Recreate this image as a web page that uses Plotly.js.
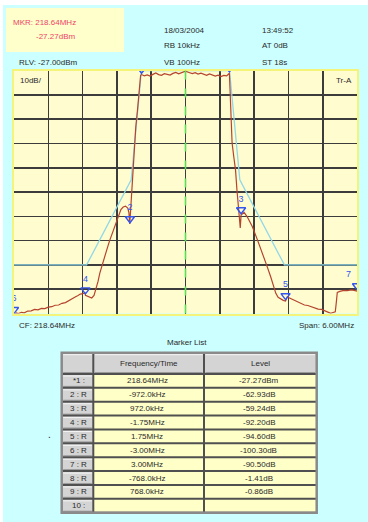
<!DOCTYPE html>
<html>
<head>
<meta charset="utf-8">
<script src="https://cdn.plot.ly/plotly-3.0.1.min.js"></script>
<style>html,body{margin:0;padding:0;background:#fff;}#chart{width:368px;height:522px;}</style>
</head>
<body>
<div id="chart"></div>
<script>
// ---- data ----
const centerFreqMHz = 218.64;
const spanMHz = 6.0;
const refLevelDbm = -27.0;
const dbPerDiv = 10;

const traceOffsetMHz = [-3.00,-2.96,-2.92,-2.87,-2.82,-2.76,-2.70,-2.64,-2.58,-2.52,-2.46,-2.40,-2.34,-2.28,-2.22,-2.16,-2.10,-2.04,-1.98,-1.93,-1.88,-1.84,-1.80,-1.76,-1.75,-1.71,-1.67,-1.64,-1.60,-1.57,-1.53,-1.50,-1.46,-1.43,-1.38,-1.33,-1.28,-1.23,-1.18,-1.13,-1.09,-1.05,-1.01,-0.99,-0.975,-0.962,-0.95,-0.937,-0.925,-0.915,-0.905,-0.89,-0.87,-0.84,-0.815,-0.80,-0.785,-0.768,
 -0.72,-0.67,-0.62,-0.57,-0.52,-0.47,-0.42,-0.37,-0.32,-0.27,-0.22,-0.17,-0.12,-0.06,0.00,0.06,0.12,0.17,0.22,0.27,0.32,0.37,0.42,0.47,0.52,0.57,0.62,0.67,0.72,0.768,
 0.78,0.795,0.815,0.845,0.875,0.90,0.915,0.94,0.958,0.972,0.995,1.025,1.08,1.17,1.26,1.37,1.43,1.49,1.54,1.58,1.62,1.67,1.71,1.75,1.78,1.82,1.86,1.91,1.96,2.02,2.08,2.14,2.20,2.26,2.32,2.38,2.43,2.49,2.54,2.58,2.62,2.64,2.655,2.70,2.77,2.83,2.90,2.95,3.00];
const traceLevelDbm = [-127.9,-126.8,-127.0,-126.5,-126.7,-126.0,-125.9,-125.3,-125.5,-124.9,-125.0,-124.4,-124.2,-123.6,-123.5,-122.8,-122.5,-121.6,-121.0,-120.2,-119.6,-119.0,-118.8,-118.5,-119.47,-119.8,-120.4,-120.6,-119.6,-117.5,-113.8,-110.5,-107.0,-104.5,-101.0,-97.2,-93.8,-90.6,-87.2,-84.2,-83.2,-82.8,-83.6,-85.5,-90.2,-85.0,-82.0,-76.5,-72.0,-67.9,-61.0,-56.8,-50.3,-43.3,-36.3,-30.5,-29.0,-28.68,
 -29.2,-28.8,-29.3,-28.6,-28.0,-28.7,-29.0,-28.3,-28.5,-28.9,-28.2,-27.8,-28.4,-27.7,-27.27,-27.8,-28.3,-27.9,-28.5,-28.1,-28.7,-29.0,-28.4,-28.8,-29.3,-28.9,-29.5,-29.0,-29.2,-28.13,
 -35.0,-47.4,-56.8,-62.6,-67.9,-76.2,-80.3,-84.0,-91.8,-86.51,-86.0,-85.4,-87.2,-91.3,-96.8,-103.6,-107.8,-111.9,-115.8,-118.7,-120.3,-121.2,-121.6,-121.87,-120.1,-120.6,-121.0,-121.5,-122.1,-122.6,-123.5,-123.7,-124.2,-124.6,-125.2,-125.3,-125.8,-126.4,-126.9,-126.6,-126.3,-122.0,-118.3,-117.9,-117.5,-117.6,-117.3,-117.5,-117.77];

const maskOffsetMHz = [-3.0,-1.73,-0.95,-0.77,0.77,0.95,1.73,3.0];
const maskLevelDbm  = [-107,-107,-72,-27,-27,-72,-107,-107];

const markerLabels    = ['','2','3','4','5','6','7','',''];
const markerOffsetMHz = [0,-0.972,0.972,-1.75,1.75,-3.0,3.0,-0.768,0.768];
const markerLevelDbm  = [-27.27,-90.20,-86.51,-119.47,-121.87,-127.57,-117.77,-28.68,-28.13];

const tableIndex  = ['*1 :','2 : R','3 : R','4 : R','5 : R','6 : R','7 : R','8 : R','9 : R','10 :'];
const tableFreq   = ['218.64MHz','-972.0kHz','972.0kHz','-1.75MHz','1.75MHz','-3.00MHz','3.00MHz','-768.0kHz','768.0kHz',''];
const tableLevel  = ['-27.27dBm','-62.93dB','-59.24dB','-92.20dB','-94.60dB','-100.30dB','-90.50dB','-1.41dB','-0.86dB',''];
const tableHeader = ['','Frequency/Time','Level'];

// ---- layout helpers ----
const W = 368, H = 522;
const fx = x => x / W;
const fy = y => 1 - y / H;
const FONT = 'Liberation Sans, Arial, sans-serif';
const plotL = 14, plotR = 357, plotT = 70.5, plotB = 313.5;

function txt(text, x, y, opts) {
  opts = opts || {};
  return Object.assign({
    text: text, xref: 'paper', yref: 'paper', x: fx(x), y: fy(y),
    xanchor: 'left', yanchor: 'middle', showarrow: false,
    font: {family: FONT, size: 8, color: opts.color || '#2a2a2a'}
  }, opts.extra || {});
}
function rect(x0, y0, x1, y1, fill, layer) {
  return {type: 'rect', xref: 'paper', yref: 'paper', x0: fx(x0), x1: fx(x1), y0: fy(y1), y1: fy(y0),
          fillcolor: fill, line: {width: 0}, layer: layer || 'below'};
}
function pline(x0, y0, x1, y1, color, width) {
  return {type: 'line', xref: 'paper', yref: 'paper', x0: fx(x0), x1: fx(x1), y0: fy(y0), y1: fy(y1),
          line: {color: color, width: width}};
}

// ---- table geometry (drawn with shapes + text) ----
const colEdges = [61.7, 93.3, 204, 316.7];
const tblTop = 352.7, hdrBottom = 374, rowH = 13.87;
const nRows = tableIndex.length;
const tblBottom = hdrBottom + nRows * rowH;
const tableShapes = [];
const tableTexts = [];
tableShapes.push(rect(colEdges[0], tblTop, colEdges[3], hdrBottom, '#d4d4d4'));
tableShapes.push(rect(colEdges[0], hdrBottom, colEdges[1], tblBottom, '#d4d4d4'));
tableShapes.push(rect(colEdges[1], hdrBottom, colEdges[3], tblBottom, '#ffffc8'));
// bevel highlights on grey cells
for (let i = 0; i < nRows; i++) {
  const y0 = hdrBottom + i * rowH;
  tableShapes.push(pline(colEdges[0] + 1.5, y0 + 2, colEdges[1] - 1.5, y0 + 2, '#f4f4f4', 1));
  tableShapes.push(pline(colEdges[0] + 1.5, y0 + rowH - 1.5, colEdges[1] - 1.5, y0 + rowH - 1.5, '#9a9a9a', 1));
}
for (let c = 0; c < 3; c++) {
  tableShapes.push(pline(colEdges[c] + 1.5, tblTop + 2, colEdges[c + 1] - 1.5, tblTop + 2, '#f4f4f4', 1));
  tableShapes.push(pline(colEdges[c] + 1.5, hdrBottom - 1.5, colEdges[c + 1] - 1.5, hdrBottom - 1.5, '#9a9a9a', 1));
}
// grid lines
for (let i = 0; i <= nRows; i++) {
  const y = hdrBottom + i * rowH;
  tableShapes.push(pline(colEdges[0], y, colEdges[3], y, '#505050', 2));
}
for (let c = 1; c < 3; c++) tableShapes.push(pline(colEdges[c], tblTop, colEdges[c], tblBottom, '#505050', 2));
// outer frame
tableShapes.push({type: 'rect', xref: 'paper', yref: 'paper', x0: fx(colEdges[0]), x1: fx(colEdges[3]), y0: fy(tblBottom), y1: fy(tblTop),
                  line: {color: '#8a8a8a', width: 2.5}, fillcolor: 'rgba(0,0,0,0)'});
// texts
const colCenters = [0, 1, 2].map(c => (colEdges[c] + colEdges[c + 1]) / 2);
tableHeader.forEach((t, c) => { if (t) tableTexts.push(txt(t, colCenters[c], (tblTop + hdrBottom) / 2, {extra: {xanchor: 'center'}})); });
[tableIndex, tableFreq, tableLevel].forEach((col, c) => {
  col.forEach((t, i) => {
    if (t) tableTexts.push(txt(t, colCenters[c] + (c === 0 ? 1 : -1.5), hdrBottom + (i + 0.5) * rowH, {extra: {xanchor: 'center'}}));
  });
});

const traces = [
  {
    x: maskOffsetMHz, y: maskLevelDbm, type: 'scatter', mode: 'lines',
    line: {color: '#90d8e8', width: 1.3}, hoverinfo: 'skip', xaxis: 'x', yaxis: 'y'
  },
  {
    x: traceOffsetMHz, y: traceLevelDbm, type: 'scatter', mode: 'lines',
    line: {color: '#b5442e', width: 1.2}, hoverinfo: 'skip', xaxis: 'x', yaxis: 'y'
  },
  {
    x: markerOffsetMHz, y: markerLevelDbm, type: 'scatter', mode: 'markers+text',
    text: markerLabels,
    textposition: ['top center','top center','top center','top center','top center','top center','top left','top center','top center'],
    textfont: {family: FONT, size: 9, color: '#3355ee'},
    marker: {symbol: 'triangle-down-open', size: 8, color: '#3355ee', line: {width: 1.4, color: '#3355ee'}},
    cliponaxis: true, hoverinfo: 'skip', xaxis: 'x', yaxis: 'y2'
  }
];

const yShiftDb = 2.2;
const layout = {
  width: W, height: H,
  margin: {l: 0, r: 0, t: 0, b: 0, pad: 0},
  paper_bgcolor: '#ccffff',
  plot_bgcolor: '#fffcd0',
  showlegend: false,
  xaxis: {
    domain: [fx(plotL), fx(plotR)],
    range: [-spanMHz / 2, spanMHz / 2], tick0: -spanMHz / 2, dtick: spanMHz / 10,
    showgrid: true, gridcolor: '#3c3c3c', gridwidth: 1.6,
    showticklabels: false, ticks: '', zeroline: false,
    showline: true, mirror: true, linecolor: '#f4f47a', linewidth: 2, fixedrange: true
  },
  yaxis: {
    domain: [fy(plotB), fy(plotT)],
    range: [refLevelDbm - 10 * dbPerDiv, refLevelDbm], tick0: refLevelDbm - 10 * dbPerDiv, dtick: dbPerDiv,
    showgrid: true, gridcolor: '#3c3c3c', gridwidth: 1.6,
    showticklabels: false, ticks: '', zeroline: false,
    showline: true, mirror: true, linecolor: '#f4f47a', linewidth: 2, fixedrange: true
  },
  yaxis2: {
    overlaying: 'y', anchor: 'x',
    range: [refLevelDbm - 10 * dbPerDiv - yShiftDb, refLevelDbm - yShiftDb],
    visible: false, fixedrange: true
  },
  shapes: [
    {type: 'rect', xref: 'paper', yref: 'paper', x0: 0, x1: 1, y0: fy(5), y1: 1, fillcolor: '#ffffff', line: {width: 0}, layer: 'below'},
    {type: 'rect', xref: 'paper', yref: 'paper', x0: 0, x1: fx(3), y0: 0, y1: 1, fillcolor: '#ffffff', line: {width: 0}, layer: 'below'},
    rect(6, 8, 124, 52, '#ffffcc'),
    {type: 'line', xref: 'x', yref: 'paper', x0: markerOffsetMHz[0], x1: markerOffsetMHz[0], y0: fy(plotB), y1: fy(plotT),
     line: {color: '#55e055', width: 1.6, dash: 'dash'}}
  ].concat(tableShapes),
  annotations: [
    txt('MKR: 218.64MHz', 11, 22.5, {color: '#ee4466'}),
    txt('-27.27dBm', 34.3, 36.7, {color: '#ee4466'}),
    txt('18/03/2004', 162.3, 30.7),
    txt('13:49:52', 260, 30.7),
    txt('RB 10kHz', 162.3, 45.7),
    txt('AT 0dB', 260, 45.7),
    txt('RLV: -27.00dBm', 17.3, 62.3),
    txt('VB 100Hz', 162.3, 62.3),
    txt('ST 18s', 260, 62.3),
    txt('10dB/', 17.5, 80.5),
    txt('Tr-A', 354, 81, {extra: {xanchor: 'right'}}),
    txt('CF: 218.64MHz', 16.7, 325.7),
    txt('Span: 6.00MHz', 356, 325.7, {extra: {xanchor: 'right'}}),
    txt('Marker List', 187, 342.3, {extra: {xanchor: 'center'}}),
    txt('.', 45.5, 434, {extra: {font: {family: FONT, size: 10, color: '#222'}}})
  ].concat(tableTexts)
};

Plotly.newPlot('chart', traces, layout, {staticPlot: true, displayModeBar: false});
</script>
</body>
</html>
